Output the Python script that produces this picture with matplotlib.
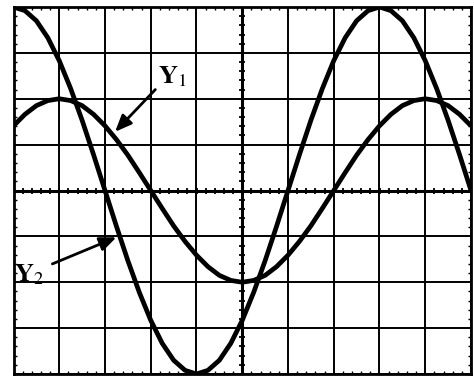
import numpy as np
from matplotlib import pyplot as plt

plt.rcParams['mathtext.fontset'] = 'stix'

# sample positions in screen divisions
x = [-5.0, -4.75, -4.5, -4.25, -4.0, -3.75, -3.5, -3.25, -3.0, -2.75, -2.5,
     -2.25, -2.0, -1.75, -1.5, -1.25, -1.0, -0.75, -0.5, -0.25, 0.0,
     0.25, 0.5, 0.75, 1.0, 1.25, 1.5, 1.75, 2.0, 2.25, 2.5,
     2.75, 3.0, 3.25, 3.5, 3.75, 4.0, 4.25, 4.5, 4.75, 5.0]

y1 = [1.41, 1.66, 1.85, 1.96, 2.00, 1.96, 1.85, 1.66, 1.41, 1.11, 0.77,
      0.39, 0.00, -0.39, -0.77, -1.11, -1.41, -1.66, -1.85, -1.96, -2.00,
      -1.96, -1.85, -1.66, -1.41, -1.11, -0.77, -0.39, 0.00, 0.39, 0.77,
      1.11, 1.41, 1.66, 1.85, 1.96, 2.00, 1.96, 1.85, 1.66, 1.41]

y2 = [4.00, 3.92, 3.70, 3.33, 2.83, 2.22, 1.53, 0.78, 0.00, -0.78, -1.53,
      -2.22, -2.83, -3.33, -3.70, -3.92, -4.00, -3.92, -3.70, -3.33, -2.83,
      -2.22, -1.53, -0.78, 0.00, 0.78, 1.53, 2.22, 2.83, 3.33, 3.70,
      3.92, 4.00, 3.92, 3.70, 3.33, 2.83, 2.22, 1.53, 0.78, 0.00]

fig = plt.figure(figsize=(4.74, 3.78), dpi=100)
ax = fig.add_axes([13.5/474, 4/378, 457.5/474, 367/378])

ax.set_xlim(-5, 5)
ax.set_ylim(-4, 4)

# graticule
ax.set_xticks(range(-5, 6))
ax.set_yticks(range(-4, 5))
ax.set_xticks(np.arange(-5, 5.01, 0.2), minor=True)
ax.set_yticks(np.arange(-4, 4.01, 0.2), minor=True)
ax.set_xticklabels([])
ax.set_yticklabels([])
ax.tick_params(which='major', length=0)
ax.tick_params(which='minor', direction='in', length=2.5, width=1,
               top=True, right=True, bottom=True, left=True)
ax.grid(True, which='major', color='black', lw=1.4)
for s in ax.spines.values():
    s.set_linewidth(2)

# centre axes with fine ticks
ax.axhline(0, color='black', lw=2.2)
ax.axvline(0, color='black', lw=2.2)
tx = np.arange(-5, 5.01, 0.2)
ty = np.arange(-4, 4.01, 0.2)
ax.plot(tx, np.zeros(len(tx)), '|', color='black', ms=5, mew=1.3)
ax.plot(np.zeros(len(ty)), ty, '_', color='black', ms=5, mew=1.3)

# traces
ax.plot(x, y1, color='black', lw=3.4, solid_capstyle='butt')
ax.plot(x, y2, color='black', lw=3.4, solid_capstyle='butt')

# labels and arrows
arrow = dict(arrowstyle='-|>,head_length=1.0,head_width=0.42',
             color='black', lw=2.0, shrinkA=0, shrinkB=0)
ax.text(-1.84, 2.33, r'$\mathbf{Y}_{1}$', fontsize=19, ha='left', va='baseline')
ax.annotate('', xy=(-2.78, 1.28), xytext=(-1.9, 2.2), arrowprops=arrow)
ax.text(-5.0, -1.98, r'$\mathbf{Y}_{2}$', fontsize=19, ha='left', va='baseline')
ax.annotate('', xy=(-2.75, -1.02), xytext=(-4.15, -1.6), arrowprops=arrow)

plt.savefig('out.png', dpi=100)
